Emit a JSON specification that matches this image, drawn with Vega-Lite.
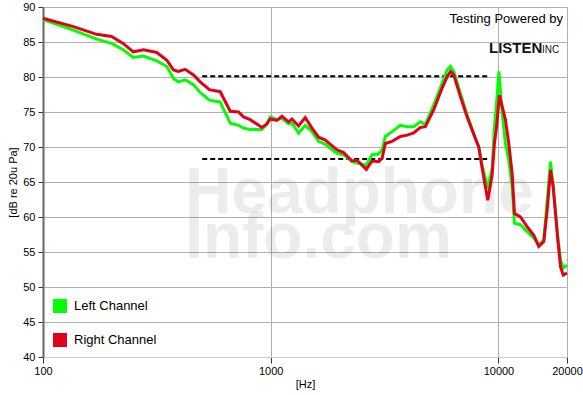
{
  "$schema": "https://vega.github.io/schema/vega-lite/v6.json",
  "width": 524,
  "height": 350,
  "autosize": {"type": "none"},
  "padding": {"left": 43, "top": 7, "right": 16, "bottom": 38},
  "background": "white",
  "config": {
    "view": {"stroke": null},
    "font": "Liberation Sans",
    "axis": {"labelFont": "Liberation Sans", "titleFont": "Liberation Sans", "labelColor": "#000", "titleColor": "#000"},
    "axisX": {"grid": true, "gridColor": "#b0b0b0", "gridWidth": 1, "domainColor": "#c8c8c8", "domainWidth": 1, "tickColor": "#333", "tickSize": 6, "labelFontSize": 11, "labelPadding": 2, "labelFlush": false, "labelOverlap": false, "titleFontSize": 11, "titleFontWeight": "normal", "titlePadding": 2},
    "axisY": {"grid": true, "gridColor": "#b0b0b0", "gridWidth": 1, "domainColor": "#666", "domainWidth": 2, "tickColor": "#333", "tickSize": 5, "labelFontSize": 11, "labelPadding": 3, "labelOverlap": false, "titleFontSize": 11, "titleFontWeight": "normal", "titlePadding": 4}
  },
  "datasets": {
    "curves": [
      {"f":100,"db":88.2,"ch":"Left Channel"},{"f":136,"db":86.7,"ch":"Left Channel"},{"f":172,"db":85.4,"ch":"Left Channel"},{"f":200,"db":84.8,"ch":"Left Channel"},{"f":225,"db":83.9,"ch":"Left Channel"},{"f":249,"db":82.8,"ch":"Left Channel"},{"f":276,"db":83.0,"ch":"Left Channel"},{"f":316,"db":82.3,"ch":"Left Channel"},{"f":350,"db":81.5,"ch":"Left Channel"},{"f":374,"db":79.8,"ch":"Left Channel"},{"f":393,"db":79.3,"ch":"Left Channel"},{"f":421,"db":79.6,"ch":"Left Channel"},{"f":458,"db":78.9,"ch":"Left Channel"},{"f":490,"db":77.8,"ch":"Left Channel"},{"f":538,"db":76.7,"ch":"Left Channel"},{"f":600,"db":76.4,"ch":"Left Channel"},{"f":664,"db":73.4,"ch":"Left Channel"},{"f":722,"db":73.1,"ch":"Left Channel"},{"f":760,"db":72.7,"ch":"Left Channel"},{"f":813,"db":72.5,"ch":"Left Channel"},{"f":915,"db":72.5,"ch":"Left Channel"},{"f":962,"db":73.3,"ch":"Left Channel"},{"f":995,"db":74.3,"ch":"Left Channel"},{"f":1065,"db":73.9,"ch":"Left Channel"},{"f":1120,"db":74.1,"ch":"Left Channel"},{"f":1197,"db":73.3,"ch":"Left Channel"},{"f":1240,"db":73.4,"ch":"Left Channel"},{"f":1325,"db":72.0,"ch":"Left Channel"},{"f":1418,"db":73.1,"ch":"Left Channel"},{"f":1518,"db":72.2,"ch":"Left Channel"},{"f":1623,"db":70.8,"ch":"Left Channel"},{"f":1736,"db":70.4,"ch":"Left Channel"},{"f":1954,"db":69.1,"ch":"Left Channel"},{"f":2089,"db":68.9,"ch":"Left Channel"},{"f":2275,"db":67.9,"ch":"Left Channel"},{"f":2393,"db":67.7,"ch":"Left Channel"},{"f":2629,"db":67.4,"ch":"Left Channel"},{"f":2784,"db":68.9,"ch":"Left Channel"},{"f":2977,"db":69.0,"ch":"Left Channel"},{"f":3083,"db":69.6,"ch":"Left Channel"},{"f":3187,"db":71.5,"ch":"Left Channel"},{"f":3410,"db":72.2,"ch":"Left Channel"},{"f":3709,"db":73.1,"ch":"Left Channel"},{"f":3969,"db":72.9,"ch":"Left Channel"},{"f":4244,"db":72.9,"ch":"Left Channel"},{"f":4541,"db":73.6,"ch":"Left Channel"},{"f":4776,"db":73.2,"ch":"Left Channel"},{"f":5195,"db":76.0,"ch":"Left Channel"},{"f":5656,"db":79.1,"ch":"Left Channel"},{"f":5949,"db":81.0,"ch":"Left Channel"},{"f":6152,"db":81.5,"ch":"Left Channel"},{"f":6361,"db":80.8,"ch":"Left Channel"},{"f":6807,"db":77.7,"ch":"Left Channel"},{"f":7285,"db":74.6,"ch":"Left Channel"},{"f":7922,"db":71.2,"ch":"Left Channel"},{"f":8193,"db":70.0,"ch":"Left Channel"},{"f":8479,"db":67.4,"ch":"Left Channel"},{"f":8975,"db":64.1,"ch":"Left Channel"},{"f":9382,"db":67.0,"ch":"Left Channel"},{"f":9604,"db":72.9,"ch":"Left Channel"},{"f":9799,"db":76.0,"ch":"Left Channel"},{"f":10050,"db":80.8,"ch":"Left Channel"},{"f":10382,"db":74.8,"ch":"Left Channel"},{"f":10735,"db":70.5,"ch":"Left Channel"},{"f":11100,"db":68.1,"ch":"Left Channel"},{"f":11487,"db":64.3,"ch":"Left Channel"},{"f":11759,"db":59.1,"ch":"Left Channel"},{"f":12496,"db":58.9,"ch":"Left Channel"},{"f":13374,"db":57.9,"ch":"Left Channel"},{"f":14298,"db":57.0,"ch":"Left Channel"},{"f":15036,"db":56.0,"ch":"Left Channel"},{"f":15818,"db":56.7,"ch":"Left Channel"},{"f":16373,"db":62.4,"ch":"Left Channel"},{"f":16929,"db":67.9,"ch":"Left Channel"},{"f":17397,"db":64.3,"ch":"Left Channel"},{"f":18226,"db":57.2,"ch":"Left Channel"},{"f":18729,"db":53.9,"ch":"Left Channel"},{"f":19248,"db":52.7,"ch":"Left Channel"},{"f":20000,"db":53.1,"ch":"Left Channel"},
      {"f":100,"db":88.4,"ch":"Right Channel"},{"f":136,"db":87.2,"ch":"Right Channel"},{"f":172,"db":86.1,"ch":"Right Channel"},{"f":200,"db":85.8,"ch":"Right Channel"},{"f":225,"db":84.8,"ch":"Right Channel"},{"f":249,"db":83.6,"ch":"Right Channel"},{"f":276,"db":83.9,"ch":"Right Channel"},{"f":316,"db":83.5,"ch":"Right Channel"},{"f":350,"db":82.4,"ch":"Right Channel"},{"f":374,"db":81.0,"ch":"Right Channel"},{"f":393,"db":80.8,"ch":"Right Channel"},{"f":421,"db":81.1,"ch":"Right Channel"},{"f":458,"db":80.3,"ch":"Right Channel"},{"f":490,"db":79.3,"ch":"Right Channel"},{"f":538,"db":78.2,"ch":"Right Channel"},{"f":600,"db":77.9,"ch":"Right Channel"},{"f":664,"db":75.1,"ch":"Right Channel"},{"f":722,"db":75.0,"ch":"Right Channel"},{"f":760,"db":74.3,"ch":"Right Channel"},{"f":813,"db":73.9,"ch":"Right Channel"},{"f":915,"db":72.8,"ch":"Right Channel"},{"f":962,"db":73.3,"ch":"Right Channel"},{"f":995,"db":74.0,"ch":"Right Channel"},{"f":1065,"db":73.8,"ch":"Right Channel"},{"f":1120,"db":74.4,"ch":"Right Channel"},{"f":1197,"db":73.6,"ch":"Right Channel"},{"f":1240,"db":74.0,"ch":"Right Channel"},{"f":1325,"db":73.0,"ch":"Right Channel"},{"f":1418,"db":74.2,"ch":"Right Channel"},{"f":1518,"db":72.7,"ch":"Right Channel"},{"f":1623,"db":71.4,"ch":"Right Channel"},{"f":1736,"db":71.0,"ch":"Right Channel"},{"f":1954,"db":69.6,"ch":"Right Channel"},{"f":2089,"db":69.2,"ch":"Right Channel"},{"f":2275,"db":68.0,"ch":"Right Channel"},{"f":2393,"db":68.1,"ch":"Right Channel"},{"f":2629,"db":66.8,"ch":"Right Channel"},{"f":2784,"db":68.0,"ch":"Right Channel"},{"f":2977,"db":67.9,"ch":"Right Channel"},{"f":3083,"db":68.4,"ch":"Right Channel"},{"f":3187,"db":70.5,"ch":"Right Channel"},{"f":3410,"db":70.8,"ch":"Right Channel"},{"f":3709,"db":71.5,"ch":"Right Channel"},{"f":3969,"db":71.7,"ch":"Right Channel"},{"f":4244,"db":72.0,"ch":"Right Channel"},{"f":4541,"db":72.8,"ch":"Right Channel"},{"f":4776,"db":72.9,"ch":"Right Channel"},{"f":5195,"db":75.3,"ch":"Right Channel"},{"f":5656,"db":78.4,"ch":"Right Channel"},{"f":5949,"db":80.0,"ch":"Right Channel"},{"f":6152,"db":80.8,"ch":"Right Channel"},{"f":6361,"db":80.3,"ch":"Right Channel"},{"f":6807,"db":77.2,"ch":"Right Channel"},{"f":7285,"db":74.3,"ch":"Right Channel"},{"f":7922,"db":71.2,"ch":"Right Channel"},{"f":8193,"db":70.0,"ch":"Right Channel"},{"f":8479,"db":67.0,"ch":"Right Channel"},{"f":8975,"db":62.4,"ch":"Right Channel"},{"f":9382,"db":66.0,"ch":"Right Channel"},{"f":9604,"db":70.5,"ch":"Right Channel"},{"f":9799,"db":72.7,"ch":"Right Channel"},{"f":10101,"db":77.4,"ch":"Right Channel"},{"f":10382,"db":75.8,"ch":"Right Channel"},{"f":10735,"db":73.9,"ch":"Right Channel"},{"f":11100,"db":70.5,"ch":"Right Channel"},{"f":11487,"db":66.2,"ch":"Right Channel"},{"f":11759,"db":60.5,"ch":"Right Channel"},{"f":12496,"db":60.0,"ch":"Right Channel"},{"f":13374,"db":58.6,"ch":"Right Channel"},{"f":14298,"db":57.4,"ch":"Right Channel"},{"f":15036,"db":55.8,"ch":"Right Channel"},{"f":15818,"db":56.5,"ch":"Right Channel"},{"f":16373,"db":61.0,"ch":"Right Channel"},{"f":16929,"db":66.7,"ch":"Right Channel"},{"f":17397,"db":64.3,"ch":"Right Channel"},{"f":18226,"db":56.7,"ch":"Right Channel"},{"f":18729,"db":52.9,"ch":"Right Channel"},{"f":19248,"db":51.7,"ch":"Right Channel"},{"f":20000,"db":52.0,"ch":"Right Channel"}
    ],
    "refs": [
      {"f1":500,"f2":9000,"db":80.1},
      {"f1":500,"f2":9000,"db":68.3}
    ]
  },
  "data": {"name": "curves"},
  "encoding": {
    "x": {"field": "f", "type": "quantitative", "scale": {"type": "log", "domain": [100, 20000], "nice": false}, "axis": {"values": [100, 1000, 10000, 20000], "format": "d", "title": "[Hz]"}},
    "y": {"field": "db", "type": "quantitative", "scale": {"domain": [40, 90], "nice": false, "zero": false}, "axis": {"values": [40, 45, 50, 55, 60, 65, 70, 75, 80, 85, 90], "title": "[dB re 20u Pa]"}}
  },
  "layer": [
    {
      "data": {"name": "refs"},
      "transform": [{"filter": "datum.db < 70"}],
      "mark": {"type": "text", "text": "Headphone", "font": "Liberation Sans", "fontWeight": "bold", "fontSize": 64, "align": "left", "baseline": "alphabetic", "color": "#000", "opacity": 0.07, "dx": -17, "dy": 54},
      "encoding": {"x": {"field": "f1", "type": "quantitative"}, "y": {"field": "db", "type": "quantitative"}}
    },
    {
      "data": {"name": "refs"},
      "transform": [{"filter": "datum.db < 70"}],
      "mark": {"type": "text", "text": "Info.com", "font": "Liberation Sans", "fontWeight": "bold", "fontSize": 64, "align": "left", "baseline": "alphabetic", "color": "#000", "opacity": 0.07, "dx": -17, "dy": 99},
      "encoding": {"x": {"field": "f1", "type": "quantitative"}, "y": {"field": "db", "type": "quantitative"}}
    },
    {
      "data": {"name": "refs"},
      "mark": {"type": "rule", "color": "#000", "strokeWidth": 2, "strokeDash": [5, 3]},
      "encoding": {"x": {"field": "f1", "type": "quantitative"}, "x2": {"field": "f2"}, "y": {"field": "db", "type": "quantitative"}}
    },
    {
      "mark": {"type": "line", "strokeWidth": 3, "strokeJoin": "miter"},
      "encoding": {
        "color": {"field": "ch", "type": "nominal",
          "scale": {"domain": ["Left Channel", "Right Channel"], "range": ["#00ff00", "#e3001b"]},
          "legend": {"title": null, "orient": "none", "legendX": 10, "legendY": 292, "symbolType": "square", "symbolSize": 196, "symbolStrokeWidth": 0, "labelFontSize": 13, "labelFont": "Liberation Sans", "labelColor": "#000", "labelOffset": 7, "rowPadding": 20, "padding": 0,
            "encode": {"symbols": {"update": {"fill": {"scale": "color", "field": "value"}, "fillOpacity": {"value": 1}}}}}
        }
      }
    },
    {
      "data": {"name": "refs"},
      "transform": [{"filter": "datum.db > 70"}],
      "mark": {"type": "text", "text": "Testing Powered by", "font": "Liberation Sans", "fontSize": 13, "align": "right", "baseline": "alphabetic", "color": "#000", "dx": 75, "dy": -53},
      "encoding": {"x": {"field": "f2", "type": "quantitative"}, "y": {"field": "db", "type": "quantitative"}}
    },
    {
      "data": {"name": "refs"},
      "transform": [{"filter": "datum.db > 70"}],
      "mark": {"type": "text", "text": "LISTEN", "font": "Liberation Sans", "fontWeight": "bold", "fontSize": 15, "align": "left", "baseline": "alphabetic", "color": "#111", "dx": 1, "dy": -23},
      "encoding": {"x": {"field": "f2", "type": "quantitative"}, "y": {"field": "db", "type": "quantitative"}}
    },
    {
      "data": {"name": "refs"},
      "transform": [{"filter": "datum.db > 70"}],
      "mark": {"type": "text", "text": "INC", "font": "Liberation Sans", "fontSize": 10, "align": "left", "baseline": "alphabetic", "color": "#111", "dx": 54, "dy": -23},
      "encoding": {"x": {"field": "f2", "type": "quantitative"}, "y": {"field": "db", "type": "quantitative"}}
    }
  ]
}
